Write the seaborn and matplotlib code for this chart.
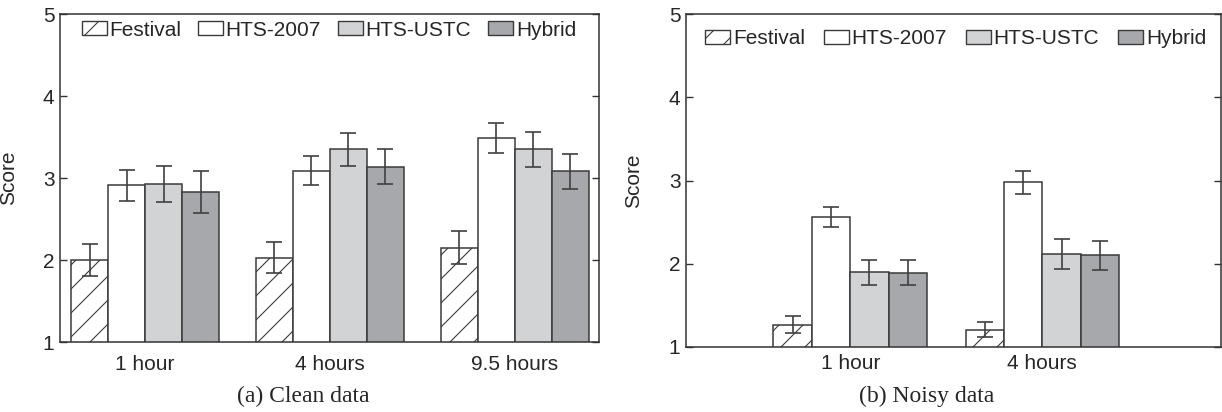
import matplotlib
matplotlib.use("Agg")
import matplotlib.pyplot as plt
import numpy as np
import pandas as pd
import seaborn as sns
from matplotlib.patches import Patch

# ---------------- data ----------------
systems = ["Festival", "HTS-2007", "HTS-USTC", "Hybrid"]

clean_cats = ["1 hour", "4 hours", "9.5 hours"]
clean_festival = [2.00, 2.03, 2.15]
clean_hts2007 = [2.91, 3.09, 3.49]
clean_htsustc = [2.93, 3.35, 3.35]
clean_hybrid = [2.83, 3.14, 3.08]
clean_err_festival = [0.20, 0.19, 0.20]
clean_err_hts2007 = [0.19, 0.18, 0.18]
clean_err_htsustc = [0.22, 0.20, 0.21]
clean_err_hybrid = [0.26, 0.21, 0.21]

noisy_cats = ["1 hour", "4 hours"]
noisy_festival = [1.27, 1.21]
noisy_hts2007 = [2.56, 2.98]
noisy_htsustc = [1.90, 2.12]
noisy_hybrid = [1.89, 2.10]
noisy_err_festival = [0.10, 0.09]
noisy_err_hts2007 = [0.12, 0.14]
noisy_err_htsustc = [0.15, 0.18]
noisy_err_hybrid = [0.15, 0.17]

y_ticks = [1, 2, 3, 4, 5]

# ---------------- styling ----------------
DPI = 72
K = 100 / DPI          # sizes below are given as points at 100 dpi


def P(v):
    return v * K


sns.set_style("ticks")
plt.rcParams["font.family"] = ["Liberation Sans", "DejaVu Sans"]
plt.rcParams["hatch.linewidth"] = P(0.8)
plt.rcParams["hatch.color"] = "#333333"

fill_colors = {"Festival": "#ffffff", "HTS-2007": "#ffffff",
               "HTS-USTC": "#d2d3d5", "Hybrid": "#a7a8ab"}
hatches = {"Festival": "/", "HTS-2007": "", "HTS-USTC": "", "Hybrid": ""}
edge = "#3a3a3a"
FS = P(15)


def build_df(cats, vals):
    rows = []
    for s, v in zip(systems, vals):
        for c, y in zip(cats, v):
            rows.append({"Duration": c, "System": s, "Score": y})
    return pd.DataFrame(rows)


def draw(ax, cats, vals, errs, xlim, xpad, leg_anchor, colsp):
    df = build_df(cats, vals)
    sns.barplot(data=df, x="Duration", y="Score", hue="System",
                hue_order=systems, order=cats,
                palette=fill_colors, edgecolor=edge, linewidth=P(1.1),
                errorbar=None, width=0.8, legend=False, ax=ax,
                saturation=1)
    for s, cont, err in zip(systems, ax.containers, errs):
        xs, ys = [], []
        for bar in cont:
            bar.set_hatch(hatches[s])
            bar.set_edgecolor(edge)
            xs.append(bar.get_x() + bar.get_width() / 2)
            ys.append(bar.get_y() + bar.get_height())
        ax.errorbar(xs, ys, yerr=err, fmt="none", ecolor="#404040",
                    elinewidth=P(1.2), capsize=P(5.5), capthick=P(1.2),
                    zorder=5)
    ax.set_ylim(1, 5)
    ax.set_yticks(y_ticks)
    ax.set_xlim(*xlim)
    ax.set_xlabel("")
    ax.set_ylabel("Score", fontsize=FS)
    ax.tick_params(axis="y", direction="in", length=P(5), width=P(1.0),
                   left=True, right=True, labelsize=FS, pad=P(4),
                   color="#333333")
    ax.tick_params(axis="x", length=0, labelsize=FS, pad=P(xpad))
    for sp in ax.spines.values():
        sp.set_visible(True)
        sp.set_color("#333333")
        sp.set_linewidth(P(1.1))
    handles = [Patch(facecolor=fill_colors[s], edgecolor=edge,
                     hatch=hatches[s], linewidth=P(1.0)) for s in systems]
    ax.legend(handles, systems, loc="upper left",
              bbox_to_anchor=leg_anchor, ncol=4, frameon=False,
              fontsize=FS, handlelength=1.2, handleheight=0.65,
              handletextpad=0.12, columnspacing=colsp, borderpad=0,
              borderaxespad=0)


fig = plt.figure(figsize=(1222 / DPI, 412 / DPI), dpi=DPI)
ax1 = fig.add_axes([60 / 1222, 1 - 342 / 412, 539 / 1222, 328 / 412])
ax2 = fig.add_axes([686 / 1222, 1 - 347 / 412, 535 / 1222, 333 / 412])

draw(ax1, clean_cats,
     [clean_festival, clean_hts2007, clean_htsustc, clean_hybrid],
     [clean_err_festival, clean_err_hts2007, clean_err_htsustc, clean_err_hybrid],
     (-0.46, 2.455), 9, (0.04, 0.98), 0.82)
draw(ax2, noisy_cats,
     [noisy_festival, noisy_hts2007, noisy_htsustc, noisy_hybrid],
     [noisy_err_festival, noisy_err_hts2007, noisy_err_htsustc, noisy_err_hybrid],
     (-0.855, 1.93), 5, (0.036, 0.955), 0.92)

ax1.yaxis.set_label_coords(-0.078, 0.5)
ax2.yaxis.set_label_coords(-0.080, 0.5)

fig.text(303 / 1222, 1 - 396 / 412, "(a) Clean data", ha="center", va="center",
         fontsize=P(17), family=["Liberation Serif", "DejaVu Serif"])
fig.text(927 / 1222, 1 - 396 / 412, "(b) Noisy data", ha="center", va="center",
         fontsize=P(17), family=["Liberation Serif", "DejaVu Serif"])

fig.savefig("out.png", dpi=DPI)
